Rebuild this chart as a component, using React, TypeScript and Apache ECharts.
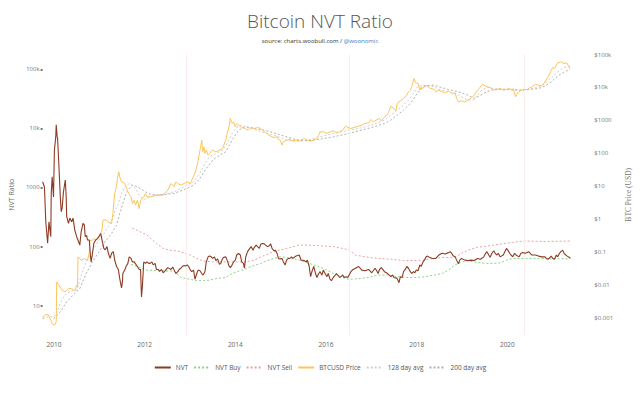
import React, { useEffect, useRef } from 'react';
import * as echarts from 'echarts';

// decimal year, NVT ratio
const nvt: [number, number][] = [
  [2009.75,1250],[2009.79,1020],[2009.82,263],[2009.86,114],[2009.89,263],[2009.93,147],[2009.94,795],[2009.96,1520],[2009.99,690],[2010.01,4270],[2010.04,7240],[2010.05,11500],[2010.07,7240],[2010.08,6780],[2010.11,2240],[2010.14,690],[2010.16,390],[2010.18,445],[2010.21,850],[2010.25,1340],[2010.27,690],[2010.28,325],[2010.32,247],[2010.35,303],[2010.39,263],[2010.42,303],[2010.46,190],[2010.50,147],[2010.53,129],[2010.57,106],[2010.60,178],[2010.64,247],[2010.67,232],[2010.69,147],[2010.72,155],[2010.74,129],[2010.78,129],[2010.80,77],[2010.82,55],[2010.85,77],[2010.88,114],[2010.92,129],[2010.96,136],[2010.99,147],[2011.03,167],[2011.06,129],[2011.10,93],[2011.13,88],[2011.17,100],[2011.20,77],[2011.24,63],[2011.27,77],[2011.31,82],[2011.34,59],[2011.38,46],[2011.42,41],[2011.45,29],[2011.49,20],[2011.51,25],[2011.52,35],[2011.56,40],[2011.59,46],[2011.63,52],[2011.66,67],[2011.70,63],[2011.73,55],[2011.77,55],[2011.80,51],[2011.84,46],[2011.88,41],[2011.91,41],[2011.93,14],[2011.95,21],[2011.98,55],[2012.02,52],[2012.05,55],[2012.09,52],[2012.12,52],[2012.16,55],[2012.19,49],[2012.23,52],[2012.26,41],[2012.30,41],[2012.33,38],[2012.37,41],[2012.41,36],[2012.44,38],[2012.51,44],[2012.58,41],[2012.62,45],[2012.65,40],[2012.69,35],[2012.73,37.6],[2012.76,41],[2012.80,43],[2012.83,46],[2012.87,48],[2012.90,47],[2012.94,49],[2012.97,46],[2013.01,40],[2013.04,37.6],[2013.08,40],[2013.11,28],[2013.15,35],[2013.18,40],[2013.22,39],[2013.26,35],[2013.29,33],[2013.33,37.6],[2013.36,55],[2013.40,67],[2013.43,69],[2013.47,67],[2013.50,63],[2013.54,67],[2013.57,58],[2013.61,62],[2013.65,50],[2013.68,52],[2013.72,63],[2013.75,66],[2013.79,67],[2013.82,59],[2013.86,47],[2013.89,44],[2013.93,49],[2013.96,55],[2014.00,59],[2014.03,72],[2014.07,77],[2014.11,72],[2014.14,55],[2014.18,52],[2014.20,43],[2014.23,67],[2014.27,82],[2014.32,93],[2014.35,100],[2014.39,87],[2014.42,97],[2014.46,106],[2014.49,100],[2014.53,93],[2014.56,109],[2014.60,113],[2014.64,111],[2014.67,106],[2014.71,100],[2014.74,102],[2014.78,111],[2014.81,93],[2014.85,85],[2014.88,87],[2014.92,77],[2014.95,63],[2014.99,62],[2015.03,63],[2015.06,55],[2015.10,49],[2015.13,59],[2015.17,63],[2015.20,63],[2015.24,67],[2015.27,63],[2015.31,67],[2015.34,69],[2015.41,72],[2015.45,59],[2015.52,58],[2015.56,55],[2015.59,59],[2015.63,46],[2015.66,31],[2015.70,40],[2015.73,46],[2015.77,35],[2015.80,30],[2015.84,35],[2015.87,37.6],[2015.91,33],[2015.94,40],[2015.98,35],[2016.02,31],[2016.05,35],[2016.09,27.9],[2016.12,26.5],[2016.16,30],[2016.19,31.8],[2016.23,35],[2016.26,33],[2016.30,30],[2016.33,31],[2016.37,33],[2016.40,30],[2016.44,31],[2016.48,30],[2016.51,33],[2016.55,37.6],[2016.58,40],[2016.65,43],[2016.72,46],[2016.79,40],[2016.86,39],[2016.94,41],[2017.01,36],[2017.08,43],[2017.11,40],[2017.15,35],[2017.18,41],[2017.22,44],[2017.29,37.6],[2017.36,35],[2017.43,31],[2017.47,33],[2017.50,30],[2017.57,29],[2017.61,24.5],[2017.64,31],[2017.68,30],[2017.71,37.6],[2017.75,41],[2017.78,46],[2017.82,43],[2017.86,37.6],[2017.89,35],[2017.93,37.6],[2017.96,36],[2017.99,40],[2018.03,39],[2018.07,49],[2018.10,46],[2018.14,55],[2018.17,59],[2018.21,67],[2018.24,69],[2018.28,66],[2018.35,63],[2018.42,63],[2018.49,72],[2018.56,77],[2018.63,75],[2018.70,79],[2018.74,82],[2018.78,75],[2018.81,69],[2018.85,67],[2018.88,59],[2018.92,51],[2018.95,59],[2018.99,63],[2019.06,59],[2019.13,58],[2019.20,59],[2019.27,58],[2019.34,63],[2019.41,61],[2019.48,67],[2019.52,77],[2019.55,82],[2019.59,72],[2019.62,66],[2019.66,77],[2019.70,85],[2019.73,77],[2019.77,72],[2019.80,77],[2019.84,67],[2019.91,72],[2019.98,93],[2020.01,87],[2020.05,77],[2020.08,72],[2020.12,67],[2020.16,77],[2020.19,72],[2020.26,67],[2020.30,77],[2020.33,79],[2020.40,77],[2020.47,82],[2020.54,72],[2020.62,72],[2020.69,69],[2020.76,67],[2020.83,67],[2020.86,63],[2020.90,61],[2020.97,69],[2021.00,63],[2021.04,61],[2021.08,72],[2021.11,67],[2021.15,77],[2021.18,82],[2021.22,87],[2021.25,77],[2021.29,72],[2021.32,69],[2021.36,66],[2021.39,63]
];

const nvtBuy: [number, number][] = [
  [2011.70,50],[2012.05,40],[2012.44,38.6],[2012.65,38.6],[2012.80,30],[2013.01,27.9],[2013.15,26.5],[2013.36,26.5],[2013.57,28.6],[2013.79,30],[2013.93,35],[2014.14,40],[2014.35,46],[2014.56,52],[2014.71,58],[2014.85,63],[2014.99,67],[2015.13,66],[2015.27,63],[2015.41,59],[2015.52,55],[2015.73,49],[2015.94,43],[2016.16,35],[2016.37,30],[2016.51,27.9],[2016.72,28.6],[2016.94,30],[2017.15,33],[2017.36,33],[2017.57,31],[2017.78,30],[2017.99,30],[2018.21,31],[2018.39,33],[2018.56,35],[2018.70,40],[2018.85,49],[2018.99,55],[2019.13,57],[2019.27,55],[2019.41,53],[2019.55,52],[2019.70,52],[2019.84,53],[2019.98,59],[2020.12,63],[2020.40,63],[2020.69,63],[2020.97,62],[2021.39,62]
];

const nvtSell: [number, number][] = [
  [2011.73,205],[2012.05,157],[2012.26,113],[2012.41,93],[2012.55,87],[2012.73,84],[2013.01,72],[2013.15,63],[2013.29,57],[2013.50,55],[2013.86,55],[2014.21,55],[2014.42,59],[2014.56,67],[2014.85,82],[2015.13,93],[2015.41,106],[2015.59,106],[2015.87,103],[2016.16,100],[2016.37,93],[2016.51,87],[2016.65,72],[2016.86,67],[2017.15,63],[2017.43,61],[2017.71,58],[2017.93,58],[2018.14,59],[2018.39,63],[2018.56,65],[2018.85,66],[2018.99,77],[2019.13,87],[2019.34,97],[2019.55,102],[2019.84,110],[2020.12,118],[2020.26,122],[2020.40,124],[2020.83,122],[2021.39,124]
];

// decimal year, BTC price in USD
const price: [number, number][] = [
  [2009.75,0.00097],[2009.79,0.00123],[2009.86,0.00132],[2009.93,0.00087],[2009.96,0.00069],[2010.01,0.00061],[2010.05,0.00077],[2010.06,0.0126],[2010.11,0.0100],[2010.18,0.0070],[2010.25,0.0063],[2010.32,0.0079],[2010.39,0.0079],[2010.46,0.0067],[2010.50,0.0100],[2010.52,0.0089],[2010.53,0.072],[2010.57,0.064],[2010.60,0.057],[2010.67,0.064],[2010.74,0.057],[2010.78,0.10],[2010.79,0.23],[2010.84,0.23],[2010.88,0.26],[2010.92,0.24],[2010.99,0.29],[2011.03,0.37],[2011.06,0.47],[2011.08,0.94],[2011.13,0.98],[2011.20,0.84],[2011.27,0.74],[2011.30,1.5],[2011.34,6.1],[2011.38,9.7],[2011.40,17.3],[2011.43,27.5],[2011.45,19.4],[2011.49,13.7],[2011.56,12.2],[2011.59,9.7],[2011.63,6.8],[2011.70,4.8],[2011.73,3.0],[2011.77,3.8],[2011.80,2.7],[2011.84,3.8],[2011.88,2.1],[2011.91,3.8],[2011.98,4.8],[2012.02,6.1],[2012.05,4.8],[2012.12,4.8],[2012.26,5.4],[2012.41,5.4],[2012.44,6.1],[2012.51,7.7],[2012.58,12.2],[2012.65,9.7],[2012.69,13.7],[2012.73,12.2],[2012.80,10.9],[2012.87,12.2],[2012.94,13.7],[2013.01,12.2],[2013.04,15.4],[2013.11,25],[2013.15,39],[2013.18,62],[2013.22,125],[2013.26,252],[2013.28,112],[2013.31,158],[2013.33,99],[2013.36,125],[2013.40,88],[2013.43,99],[2013.50,125],[2013.57,112],[2013.65,125],[2013.72,141],[2013.79,252],[2013.82,402],[2013.86,640],[2013.89,1150],[2013.93,808],[2013.96,908],[2014.00,640],[2014.03,808],[2014.07,719],[2014.14,611],[2014.21,570],[2014.28,508],[2014.35,611],[2014.42,570],[2014.49,611],[2014.56,570],[2014.64,452],[2014.71,384],[2014.78,333],[2014.85,304],[2014.92,318],[2014.95,264],[2014.99,252],[2015.03,178],[2015.06,224],[2015.13,252],[2015.20,264],[2015.27,241],[2015.34,252],[2015.41,241],[2015.45,252],[2015.52,283],[2015.59,252],[2015.66,235],[2015.73,252],[2015.80,283],[2015.84,357],[2015.87,452],[2015.94,452],[2016.02,402],[2016.09,452],[2016.16,484],[2016.23,421],[2016.30,452],[2016.37,508],[2016.43,671],[2016.48,611],[2016.55,570],[2016.62,611],[2016.72,671],[2016.79,719],[2016.86,808],[2016.94,847],[2016.99,1070],[2017.04,908],[2017.11,1020],[2017.18,1150],[2017.22,973],[2017.29,1230],[2017.36,1550],[2017.40,2050],[2017.43,2710],[2017.50,2300],[2017.54,1960],[2017.57,3270],[2017.64,3940],[2017.71,4630],[2017.78,5850],[2017.82,7380],[2017.86,8300],[2017.89,10500],[2017.94,18700],[2017.98,13800],[2018.03,13200],[2018.07,8300],[2018.10,10500],[2018.14,9300],[2018.17,11000],[2018.21,11700],[2018.28,9750],[2018.39,8700],[2018.42,7380],[2018.49,8300],[2018.56,7380],[2018.63,6880],[2018.70,7900],[2018.78,6570],[2018.85,6880],[2018.88,4630],[2018.92,3670],[2018.99,3940],[2019.06,3670],[2019.13,4120],[2019.20,4630],[2019.27,5850],[2019.34,8300],[2019.38,9300],[2019.45,12600],[2019.48,11700],[2019.55,10500],[2019.62,9980],[2019.70,8300],[2019.77,8700],[2019.84,9300],[2019.91,8300],[2019.98,8700],[2020.05,9300],[2020.11,8300],[2020.13,9300],[2020.18,5200],[2020.23,6880],[2020.30,8300],[2020.37,8700],[2020.44,8700],[2020.54,10500],[2020.62,12300],[2020.69,11700],[2020.76,11000],[2020.83,14800],[2020.90,21000],[2020.97,33400],[2021.00,40200],[2021.04,37500],[2021.11,55700],[2021.18,60000],[2021.25,53200],[2021.31,55700],[2021.34,47300],[2021.38,37500]
];

const avg128: [number, number][] = [
  [2009.75,0.00097],[2009.89,0.00115],[2009.99,0.00109],[2010.07,0.00155],[2010.14,0.0028],[2010.21,0.0044],[2010.28,0.0056],[2010.39,0.0067],[2010.50,0.0070],[2010.57,0.0142],[2010.64,0.0285],[2010.71,0.051],[2010.81,0.091],[2010.92,0.16],[2010.99,0.23],[2011.06,0.29],[2011.13,0.42],[2011.20,0.59],[2011.27,0.84],[2011.34,1.7],[2011.42,3.0],[2011.49,6.1],[2011.56,9.7],[2011.63,11.6],[2011.68,12.2],[2011.77,9.7],[2011.84,6.8],[2011.91,4.8],[2011.98,4.0],[2012.05,4.3],[2012.12,4.8],[2012.26,5.4],[2012.41,5.8],[2012.65,6.8],[2012.87,9.7],[2013.08,13.7],[2013.22,25],[2013.33,49],[2013.43,79],[2013.57,99],[2013.72,125],[2013.82,200],[2013.93,402],[2014.03,611],[2014.14,719],[2014.28,611],[2014.42,532],[2014.56,452],[2014.71,402],[2014.85,357],[2014.99,304],[2015.13,252],[2015.27,235],[2015.41,235],[2015.59,252],[2015.87,318],[2016.16,402],[2016.44,484],[2016.72,570],[2017.01,719],[2017.29,1020],[2017.43,1450],[2017.57,2050],[2017.71,2910],[2017.82,4120],[2017.93,6570],[2018.03,11000],[2018.14,11700],[2018.28,11000],[2018.39,10500],[2018.49,8700],[2018.70,7380],[2018.92,5850],[2019.13,4120],[2019.24,4120],[2019.34,5850],[2019.45,8700],[2019.55,9980],[2019.70,9300],[2019.91,8700],[2020.12,8300],[2020.26,7900],[2020.40,8300],[2020.54,9100],[2020.69,10500],[2020.83,13200],[2020.97,20000],[2021.11,29700],[2021.25,40200],[2021.38,44100]
];

const avg200: [number, number][] = [
  [2009.99,0.00097],[2010.14,0.00155],[2010.28,0.0031],[2010.42,0.0050],[2010.57,0.0079],[2010.71,0.0226],[2010.85,0.051],[2010.99,0.10],[2011.13,0.21],[2011.27,0.37],[2011.38,0.66],[2011.45,1.5],[2011.52,3.0],[2011.59,6.1],[2011.66,8.6],[2011.73,10.9],[2011.80,10.3],[2011.91,8.6],[2012.02,6.8],[2012.12,5.8],[2012.26,5.4],[2012.41,5.6],[2012.65,6.1],[2012.87,8.0],[2013.08,10.9],[2013.22,17.3],[2013.36,35],[2013.50,62],[2013.65,88],[2013.79,112],[2013.93,252],[2014.07,508],[2014.21,640],[2014.35,611],[2014.49,532],[2014.64,508],[2014.85,421],[2015.06,341],[2015.27,277],[2015.41,252],[2015.59,241],[2015.87,270],[2016.16,318],[2016.44,384],[2016.72,484],[2017.01,611],[2017.29,808],[2017.43,1020],[2017.57,1450],[2017.71,2050],[2017.86,3270],[2017.96,5200],[2018.07,8300],[2018.17,10500],[2018.28,11700],[2018.39,11700],[2018.49,10500],[2018.70,8700],[2018.92,7380],[2019.13,5850],[2019.27,4630],[2019.41,5850],[2019.55,7380],[2019.70,8700],[2019.91,8900],[2020.12,8700],[2020.33,8300],[2020.47,8700],[2020.69,9300],[2020.83,11000],[2020.97,14800],[2021.11,22000],[2021.25,29700],[2021.38,35000]
];

const yearTicks = [2010, 2012, 2014, 2016, 2018, 2020];
const halvings = [2012.91, 2016.52, 2020.37];

const FONT = '"Open Sans", "Noto Sans", sans-serif';

function fmt(v: number): string {
  const r = Number(v.toPrecision(6));
  if (r >= 10000) return `${r / 1000}k`;
  return String(r);
}

export default function App() {
  const ref = useRef<HTMLDivElement>(null);
  useEffect(() => {
    if (!ref.current) return;
    const chart = echarts.init(ref.current, undefined, { renderer: 'svg' });
    const dotted = [2, 2];
    chart.setOption({
      animation: false,
      backgroundColor: '#ffffff',
      textStyle: { fontFamily: FONT },
      title: [
        {
          text: 'Bitcoin NVT Ratio',
          left: 'center',
          top: 6,
          textStyle: { fontFamily: FONT, fontSize: 19, fontWeight: 300, color: '#555' },
        },
        {
          text: '{a|source: charts.woobull.com / }{b|@woonomic}',
          left: 'center',
          top: 33,
          textStyle: {
            fontWeight: 'normal',
            fontSize: 6,
            rich: {
              a: { fontFamily: FONT, fontSize: 6, fontWeight: 'normal', color: '#333' },
              b: { fontFamily: FONT, fontSize: 6, fontWeight: 'normal', color: '#3a7fc8' },
            },
          },
        },
      ],
      legend: {
        bottom: 17,
        left: 'center',
        itemWidth: 16,
        itemHeight: 8,
        itemGap: 5,
        itemStyle: { opacity: 0 },
        textStyle: { fontFamily: FONT, fontSize: 6.5, color: '#555' },
        data: ['NVT', 'NVT Buy', 'NVT Sell', 'BTCUSD Price', '128 day avg', '200 day avg'],
      },
      grid: { left: 33.2, right: 58.5, top: 54.5, bottom: 58 },
      xAxis: {
        type: 'value',
        min: 2009.75,
        max: 2021.39,
        axisLine: { show: false },
        axisTick: { show: false },
        splitLine: { show: false },
        axisLabel: {
          customValues: yearTicks,
          formatter: (v: number) => String(Math.round(v)),
          fontSize: 6.5,
          color: '#666',
          margin: 6,
        },
      },
      yAxis: [
        {
          type: 'log',
          logBase: 10,
          min: 3.19,
          max: 177800,
          name: 'NVT Ratio',
          nameLocation: 'middle',
          nameRotate: 90,
          nameGap: 18,
          nameTextStyle: { fontFamily: FONT, fontSize: 7, color: '#666' },
          axisLine: { show: false },
          axisTick: { show: true, length: 2, lineStyle: { color: '#777', width: 2 } },
          splitLine: { show: false },
          axisLabel: {
            showMinLabel: false,
            showMaxLabel: false,
            formatter: (v: number) => fmt(v),
            fontSize: 6,
            color: '#777',
            margin: 3,
          },
        },
        {
          type: 'log',
          logBase: 10,
          min: 0.000309,
          max: 100000,
          position: 'right',
          name: 'BTC Price (USD)',
          nameLocation: 'middle',
          nameRotate: 90,
          nameGap: 38,
          nameTextStyle: { fontFamily: '"Liberation Serif", serif', fontSize: 7.5, color: '#777' },
          axisLine: { show: false },
          axisTick: { show: false },
          splitLine: { show: false },
          axisLabel: {
            showMinLabel: false,
            showMaxLabel: true,
            formatter: (v: number) => '$' + fmt(v),
            fontSize: 6,
            color: '#777',
            margin: 24,
          },
        },
      ],
      series: [
        {
          name: 'NVT',
          type: 'line',
          yAxisIndex: 0,
          data: nvt,
          showSymbol: false,
          symbol: 'none',
          z: 6,
          lineStyle: { color: '#8c3b24', width: 1.1 },
          itemStyle: { color: '#8c3b24' },
          markLine: {
            silent: true,
            symbol: ['none', 'none'],
            label: { show: false },
            lineStyle: { color: '#fcecec', type: 'solid', width: 1 },
            data: halvings.map((h) => ({ xAxis: h })),
          },
        },
        {
          name: 'NVT Buy',
          type: 'line',
          yAxisIndex: 0,
          data: nvtBuy,
          showSymbol: false,
          symbol: 'none',
          z: 4,
          lineStyle: { color: '#86d486', width: 1, type: dotted },
          itemStyle: { color: '#86d486' },
        },
        {
          name: 'NVT Sell',
          type: 'line',
          yAxisIndex: 0,
          data: nvtSell,
          showSymbol: false,
          symbol: 'none',
          z: 4,
          lineStyle: { color: '#e8a2a2', width: 1, type: dotted },
          itemStyle: { color: '#e8a2a2' },
        },
        {
          name: 'BTCUSD Price',
          type: 'line',
          yAxisIndex: 1,
          data: price,
          showSymbol: false,
          symbol: 'none',
          z: 5,
          lineStyle: { color: '#fcc45c', width: 1 },
          itemStyle: { color: '#fcc45c' },
        },
        {
          name: '128 day avg',
          type: 'line',
          yAxisIndex: 1,
          data: avg128,
          showSymbol: false,
          symbol: 'none',
          z: 3,
          lineStyle: { color: '#cfcfcf', width: 1, type: dotted },
          itemStyle: { color: '#cfcfcf' },
        },
        {
          name: '200 day avg',
          type: 'line',
          yAxisIndex: 1,
          data: avg200,
          showSymbol: false,
          symbol: 'none',
          z: 3,
          lineStyle: { color: '#b0b0b0', width: 1, type: dotted },
          itemStyle: { color: '#b0b0b0' },
        },
      ],
    });
    return () => chart.dispose();
  }, []);
  return (
    <div
      ref={ref}
      style={{ position: 'absolute', left: 0, top: 0, width: 640, height: 393, background: '#fff' }}
    />
  );
}
